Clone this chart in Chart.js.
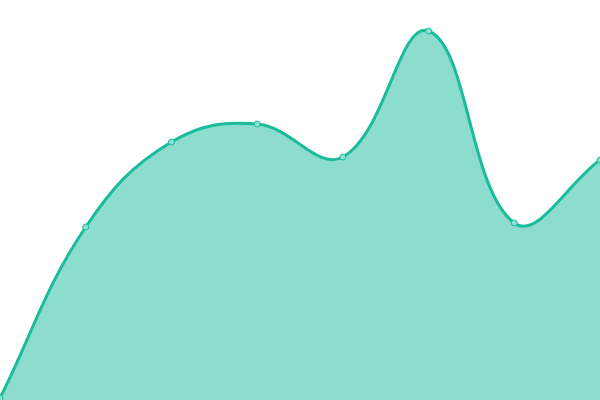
<!DOCTYPE html>
<html>
<head>
<meta charset="utf-8">
<script src="https://cdn.jsdelivr.net/npm/chart.js@4"></script>
<style>
  html, body { margin: 0; padding: 0; background: #fff; }
  #wrap { width: 600px; height: 400px; }
</style>
</head>
<body>
<div id="wrap"><canvas id="myChart"></canvas></div>
<script>
const labels = ['1', '2', '3', '4', '5', '6', '7', '8'];
const values = [2, 173, 258, 276, 243, 369, 177, 240];
const yMin = 0;
const yMax = 400;

new Chart(
  document.getElementById('myChart'),
  {
    type: 'line',
    data: {
      labels: labels,
      datasets: [
        {
          data: values,
          fill: true,
          borderColor: '#1abc9c',
          backgroundColor: 'rgba(26,188,156,0.5)',
          borderWidth: 3,
          tension: 0.4,
          pointRadius: 3,
          pointBorderWidth: 1,
          pointBackgroundColor: '#8ce0cd',
          pointBorderColor: '#1abc9c'
        }
      ]
    },
    options: {
      responsive: true,
      maintainAspectRatio: false,
      animation: false,
      layout: { padding: 0, autoPadding: false },
      plugins: { legend: { display: false }, tooltip: { enabled: false } },
      scales: {
        x: { display: false, offset: false },
        y: { display: false, min: yMin, max: yMax }
      }
    }
  }
);
</script>
</body>
</html>
